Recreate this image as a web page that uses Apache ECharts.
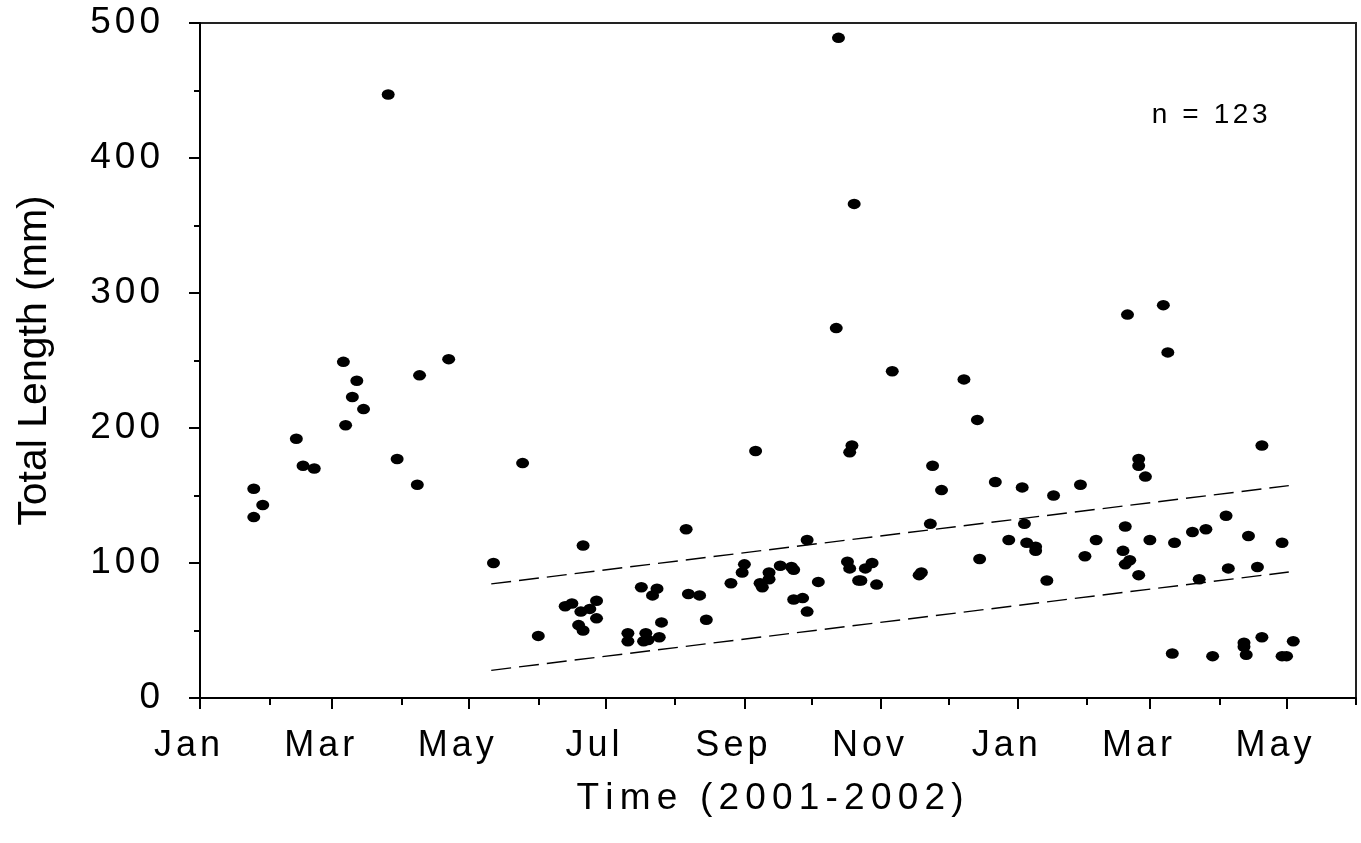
<!DOCTYPE html>
<html>
<head>
<meta charset="utf-8">
<script src="https://cdn.jsdelivr.net/npm/echarts@6/dist/echarts.min.js"></script>
<style>
html,body{margin:0;padding:0;background:#fff;}
#chart{width:1361px;height:843px;}
</style>
</head>
<body>
<div id="chart"></div>
<script>
// ---- Data (days counted from 1 Jan 2001) ----
const dayOfStudy = [
  24,28,24,43,46,51,64,65,68,70,73,84,88,97,98,111,131,144,
  151,163,166,170,174,177,177,169,171,171,191,191,199,198,200,205,206,197,204,202,
  217,218,223,226,237,242,243,248,250,251,254,254,259,264,265,265,
  269,271,271,276,284,285,289,290,290,291,292,294,295,297,300,302,309,321,322,
  326,327,331,341,347,348,355,361,367,368,369,373,373,378,381,393,395,400,
  412,413,413,414,415,419,419,419,422,424,430,432,434,435,443,446,449,452,458,
  459,466,466,467,468,472,474,474,483,483,485,488
];
const totalLength = [
  155,143,134,192,172,170,249,202,223,235,214,447,177,158,239,251,100,174,
  46,68,70,64,66,72,59,54,50,113,48,42,48,42,43,45,56,82,81,76,
  125,77,76,58,85,93,99,183,85,82,93,88,98,97,95,73,
  74,64,117,86,274,489,101,96,182,187,366,87,87,96,100,84,242,91,93,
  129,172,154,236,206,103,160,117,156,129,115,112,109,87,150,158,105,117,
  109,127,99,284,102,177,172,91,164,117,291,256,33,115,123,88,125,31,135,
  96,41,38,32,120,97,187,45,115,31,31,42
];
// dashed lines (endpoints)
const upperLineDays = [130, 486];
const upperLineValues = [84.5, 157.3];
const lowerLineDays = [130, 486];
const lowerLineValues = [20.5, 93.3];

// axis ticks / labels
const monthStartDays = [0,31,59,90,120,151,181,212,243,273,304,334,365,396,424,455,485,516];
const majorTickDays = [0,59,120,181,243,304,365,424,485];
const monthLabels = ['Jan','Mar','May','Jul','Sep','Nov','Jan','Mar','May'];
const yTickValues = [0,100,200,300,400,500];

const FONT = '"Liberation Sans", Arial, sans-serif';
function spaced(s, style) {
  return s.split('').map(c => '{' + style + '|' + c + '}').join('');
}

const points = dayOfStudy.map((d, i) => [d, totalLength[i]]);
const upperLine = upperLineDays.map((d, i) => [d, upperLineValues[i]]);
const lowerLine = lowerLineDays.map((d, i) => [d, lowerLineValues[i]]);

const chart = echarts.init(document.getElementById('chart'), null, {renderer: 'canvas'});
chart.setOption({
  animation: false,
  backgroundColor: '#fff',
  title: {
    text: spaced('n = 123', 'n'),
    left: 1145,
    top: 96,
    textStyle: {
      fontWeight: 'normal',
      rich: { n: { fontSize: 28, fontWeight: 'normal', fontFamily: FONT, color: '#000', padding: [0, 1.8, 0, 1.8] } }
    }
  },
  grid: {
    left: 200, right: 5, top: 23, bottom: 145,
    show: true, borderColor: '#222', borderWidth: 2,
    outerBoundsMode: 'none'
  },
  xAxis: [
    {
      type: 'value', min: 0, max: 516, position: 'bottom',
      axisLine: { show: true, onZero: false, lineStyle: { color: '#000', width: 2 } },
      axisTick: { show: true, customValues: majorTickDays, length: 11, inside: false, lineStyle: { color: '#000', width: 2 } },
      axisLabel: {
        show: true,
        customValues: majorTickDays,
        margin: 30,
        padding: [0, 26, 0, 0],
        formatter: function (v) {
          const idx = majorTickDays.indexOf(v);
          return idx >= 0 ? spaced(monthLabels[idx], 'm') : '';
        },
        rich: { m: { fontSize: 36, fontFamily: FONT, color: '#000', padding: [0, 2, 0, 2] } }
      },
      splitLine: { show: false },
      name: spaced('Time (2001-2002)', 'x'),
      nameLocation: 'middle',
      nameGap: 82,
      nameTextStyle: {
        padding: [0, 16, 0, 0],
        rich: { x: { fontSize: 37, fontFamily: FONT, color: '#000', padding: [0, 3.1, 0, 3.1] } }
      }
    },
    {
      type: 'value', min: 0, max: 516, position: 'bottom',
      axisLine: { show: false, onZero: false },
      axisTick: { show: true, customValues: monthStartDays, length: 7, inside: false, lineStyle: { color: '#000', width: 2 } },
      axisLabel: { show: false },
      splitLine: { show: false }
    }
  ],
  yAxis: {
    type: 'value', min: 0, max: 500, interval: 100,
    axisLine: { show: true, onZero: false, lineStyle: { color: '#000', width: 2 } },
    axisTick: { show: true, length: 11, lineStyle: { color: '#000', width: 2 } },
    minorTick: { show: true, splitNumber: 2, length: 6, lineStyle: { color: '#000', width: 2 } },
    axisLabel: {
      margin: 38,
      formatter: function (v) { return spaced(String(v), 't'); },
      rich: { t: { fontSize: 37, fontFamily: FONT, color: '#000', padding: [0, 2, 0, 2] } }
    },
    splitLine: { show: false },
    name: 'Total Length (mm)',
    nameLocation: 'middle',
    nameRotate: 90,
    nameGap: 145,
    nameTextStyle: { fontSize: 41, fontFamily: FONT, color: '#000' }
  },
  series: [
    {
      type: 'line', data: upperLine, xAxisIndex: 0, showSymbol: false, symbol: 'none',
      lineStyle: { color: '#000', width: 1.4, type: [20, 8] }, silent: true, z: 1
    },
    {
      type: 'line', data: lowerLine, xAxisIndex: 0, showSymbol: false, symbol: 'none',
      lineStyle: { color: '#000', width: 1.4, type: [20, 8] }, silent: true, z: 1
    },
    {
      type: 'scatter', data: points, xAxisIndex: 0,
      symbol: 'circle', symbolSize: [13, 10.5],
      itemStyle: { color: '#000', opacity: 1 }, z: 3
    }
  ]
});
</script>
</body>
</html>
